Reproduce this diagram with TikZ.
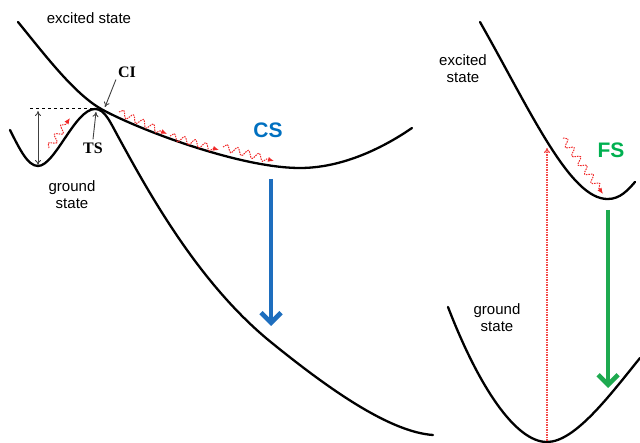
\documentclass[tikz,border=0pt]{standalone}
\usepackage{fontspec}
\setmainfont{Liberation Sans}
\newfontfamily\timesf{Liberation Serif}
\usetikzlibrary{arrows.meta,decorations.pathmorphing}
\definecolor{csblue}{RGB}{0,112,192}
\definecolor{fsgreen}{RGB}{0,176,80}
\definecolor{arrblue}{RGB}{30,110,190}
\definecolor{arrgreen}{RGB}{30,170,80}
\definecolor{wred}{RGB}{240,40,40}
\tikzset{
  curve/.style={line width=2.3pt, line join=round, line cap=round},
  lbl/.style={font=\fontsize{15}{17}\selectfont, align=center, inner sep=0pt},
  bigl/.style={font=\fontsize{21}{24}\selectfont\bfseries, inner sep=0pt},
  tsl/.style={font=\fontsize{16}{18}\selectfont\timesf\bfseries, inner sep=0pt},
  pointer/.style={draw=black!75, line width=0.9pt, -{To[length=5pt,width=6pt]}},
  wavy/.style={wred, dash pattern=on 1.5pt off 1pt, line width=1pt, -{Latex[length=6pt,width=5pt]},
    decorate, decoration={snake, amplitude=3.5pt, segment length=11pt, post length=5pt}},
  bigarrow/.style={line width=4.6pt, -{Straight Barb[length=10pt,width=20pt]}}
}
\begin{document}
\begin{tikzpicture}[x=1pt,y=-1pt]
\useasboundingbox (0,0) rectangle (640,443);
% left panel curves
\draw[curve] (18,22) .. controls (45,55) and (75,95) .. (103,110)
  .. controls (140,130) and (240,168) .. (300,168)
  .. controls (340,168) and (380,150) .. (412,128);
\draw[curve] (10,130) .. controls (20,150) and (28,166) .. (38,166)
  .. controls (55,166) and (75,109) .. (95,109)
  .. controls (105,109) and (110,122) .. (120,140)
  .. controls (150,195) and (200,285) .. (272,343)
  .. controls (330,390) and (390,432) .. (433,435);
% right panel curves
\draw[curve] (480,22) .. controls (530,110) and (570,200) .. (608,199)
  .. controls (620,199) and (628,190) .. (635,182);
\draw[curve] (448,307) .. controls (478,385) and (515,442) .. (547,442)
  .. controls (575,442) and (610,395) .. (640,358);
% labels
\node[lbl] (exl) at (89,18) {excited state};
\node[lbl] (grl) at (72,195) {ground\\state};
\node[lbl] (exr) at (463,69) {excited\\state};
\node[lbl] (grr) at (497,318) {ground\\state};
\node[bigl, text=csblue] (cs) at (268,130) {CS};
\node[bigl, text=fsgreen] (fs) at (611,150) {FS};
\node[tsl] (ci) at (127,72) {CI};
\node[tsl] (ts) at (93,148) {TS};
% dashed level and barrier arrow
\coordinate (d1) at (30,108);
\coordinate (d2) at (97,108);
\draw[dashed, line width=0.8pt] (d1) -- (d2);
\coordinate (b1) at (38,111);
\coordinate (b2) at (38,165);
\draw[draw=black!75, line width=0.9pt, {To[length=5pt,width=6pt]}-{To[length=5pt,width=6pt]}] (b1) -- (b2);
% pointers
\coordinate (cit) at (105,107);
\coordinate (tst) at (96,112);
\draw[pointer] (ci.south west) ++(-2,2) -- (cit);
\draw[pointer] (ts.north) ++(0,-3) -- (tst);
% wavy arrows
\coordinate (w1a) at (49,148); \coordinate (w1b) at (70,118);
\draw[wavy] (w1a) -- (w1b);
\coordinate (w2a) at (119,112); \coordinate (w2b) at (167,134);
\draw[wavy] (w2a) -- (w2b);
\coordinate (w3a) at (170,136); \coordinate (w3b) at (219,150);
\draw[wavy] (w3a) -- (w3b);
\coordinate (w4a) at (223,147); \coordinate (w4b) at (274,161);
\draw[wavy] (w4a) -- (w4b);
\coordinate (w5a) at (563,138); \coordinate (w5b) at (603,194);
\draw[wavy] (w5a) -- (w5b);
% absorption dotted arrow
\coordinate (v1) at (547,441); \coordinate (v2) at (547,148);
\draw[wred!85, dash pattern=on 1.5pt off 1pt, line width=1.2pt, -{To[length=5pt,width=6pt]}] (v1) -- (v2);
% big arrows
\coordinate (ba1) at (271,179); \coordinate (ba2) at (271,326);
\draw[bigarrow, arrblue] (ba1) -- (ba2);
\coordinate (ga1) at (608,210); \coordinate (ga2) at (608,388);
\draw[bigarrow, arrgreen] (ga1) -- (ga2);
\end{tikzpicture}
\end{document}
